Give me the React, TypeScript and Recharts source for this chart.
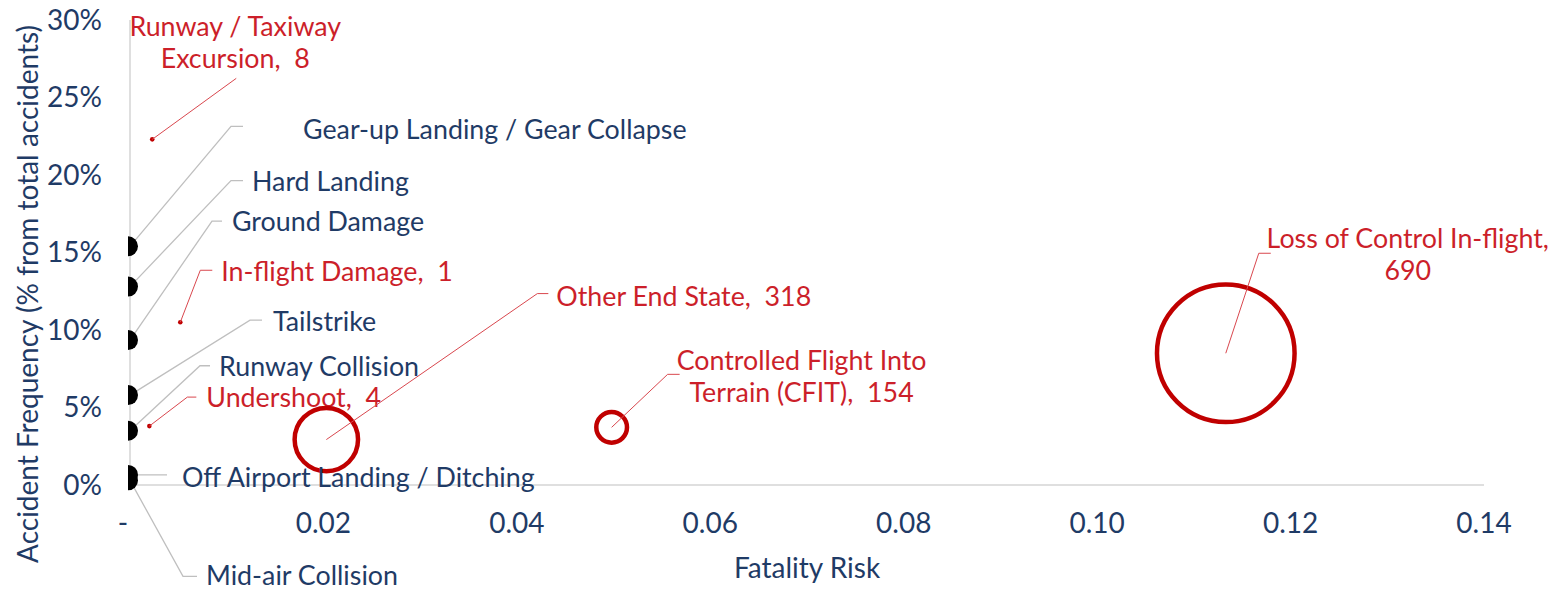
import React from 'react';
import { ScatterChart, Scatter, XAxis, YAxis, ZAxis, Label } from 'recharts';

// end states with no recorded fatality risk (drawn as black markers on the y axis)
const zeroRiskNames = [
  'Gear-up Landing / Gear Collapse',
  'Hard Landing',
  'Ground Damage',
  'Tailstrike',
  'Runway Collision',
  'Off Airport Landing / Ditching',
  'Mid-air Collision',
];
const zeroRiskFreq = [0.154, 0.128, 0.0935, 0.058, 0.035, 0.0065, 0.003];

// end states with fatalities (bubble width = number of fatalities)
const fatalNames = [
  'Runway / Taxiway Excursion',
  'In-flight Damage',
  'Undershoot',
  'Other End State',
  'Controlled Flight Into Terrain (CFIT)',
  'Loss of Control In-flight',
];
const fatalRisk = [0.0023, 0.0052, 0.002, 0.0203, 0.0498, 0.1133];
const fatalFreq = [0.223, 0.105, 0.038, 0.0293, 0.0372, 0.085];
const fatalities = [8, 1, 4, 318, 154, 690];

const xTicks = [0, 0.02, 0.04, 0.06, 0.08, 0.1, 0.12, 0.14];
const yTicks = [0, 0.05, 0.1, 0.15, 0.2, 0.25, 0.3];

const zeroRiskData = zeroRiskNames.map((name, i) => ({ name, risk: 0, freq: zeroRiskFreq[i] }));
const fatalData = fatalNames.map((name, i) => ({
  name,
  risk: fatalRisk[i],
  freq: fatalFreq[i],
  fatal: fatalities[i],
}));
const maxFatal = Math.max(...fatalities);

const NAVY = '#1F3B66';
const RED_TEXT = '#CC1F2A';
const RED = '#C00000';
const GREY = '#BFBFBF';
const FONT = "Lato, 'Noto Sans', sans-serif";
const FS = 26.8; // data labels
const FS_AXIS = 28; // ticks and axis titles

// leader line / label placement, pixel offsets from the point
// bend: end of slanted leader, tail: short horizontal piece, text: label anchor
const labelLayout: Record<string, any> = {
  'Gear-up Landing / Gear Collapse': { bend: [101, -120], tail: 12, text: [173, -117] },
  'Hard Landing': { bend: [101, -106], tail: 12, text: [122, -106] },
  'Ground Damage': { bend: [82, -119], tail: 10, text: [102, -119] },
  Tailstrike: { bend: [120, -75], tail: 12, text: [143, -74] },
  'Runway Collision': { bend: [70, -65], tail: 10, text: [89, -65] },
  'Off Airport Landing / Ditching': { bend: [5, 0], tail: 32, text: [52, 2] },
  'Mid-air Collision': { bend: [53, 96], tail: 14, text: [76, 95] },
  'Runway / Taxiway Excursion': { bend: [84, -61], tail: 0, text: [83, -113], wrap: 16, anchor: 'middle' },
  'In-flight Damage': { bend: [20, -52], tail: 12, text: [41, -51] },
  Undershoot: { bend: [38, -29], tail: 9, text: [57, -29] },
  'Other End State': { bend: [211, -146], tail: 11, text: [230, -144] },
  'Controlled Flight Into Terrain (CFIT)': { bend: [56, -53], tail: 12, text: [190, -67], wrap: 22, anchor: 'middle' },
  'Loss of Control In-flight': { bend: [33, -100], tail: 12, text: [182, -115], wrap: 26, anchor: 'middle' },
};

const wrapText = (s: string, max?: number) => {
  if (!max) return [s];
  const out: string[] = [];
  let line = '';
  s.split(' ').forEach((w) => {
    if (line === '') line = w;
    else if ((line + ' ' + w).length <= max) line = line + ' ' + w;
    else {
      out.push(line);
      line = w;
    }
  });
  if (line !== '') out.push(line);
  return out;
};

const LeaderLabel = ({ cx, cy, text, color, lineColor, lineWidth, lay }: any) => {
  const bx = cx + lay.bend[0];
  const by = cy + lay.bend[1];
  const lines = wrapText(text, lay.wrap);
  const tx = cx + lay.text[0];
  const ty = cy + lay.text[1];
  return (
    <g>
      <polyline
        points={`${cx},${cy} ${bx},${by} ${bx + lay.tail},${by}`}
        fill="none"
        stroke={lineColor}
        strokeWidth={lineWidth}
      />
      <text
        x={tx}
        y={ty}
        fill={color}
        fontSize={FS}
        fontFamily={FONT}
        textAnchor={lay.anchor || 'start'}
        dominantBaseline="central"
        style={{ whiteSpace: 'pre' }}
      >
        {lines.map((l, i) => (
          <tspan key={i} x={tx} y={ty + i * 32}>
            {l}
          </tspan>
        ))}
      </text>
    </g>
  );
};

const BlackMarker = (props: any) => {
  const { cx, cy, payload } = props;
  const r = 10;
  return (
    <g>
      <LeaderLabel cx={cx} cy={cy} text={payload.name} color={NAVY} lineColor={GREY} lineWidth={1.3} lay={labelLayout[payload.name]} />
      <path d={`M ${cx - 2} ${cy - r} A ${r} ${r} 0 0 1 ${cx - 2} ${cy + r} Z`} fill="#000" />
    </g>
  );
};

const RedBubble = (props: any) => {
  const { cx, cy, payload, width, size } = props;
  const r = width != null ? width / 2 : Math.sqrt(Math.max(size || 0, 0) / Math.PI);
  const small = r < 3;
  return (
    <g>
      <circle
        cx={cx}
        cy={cy}
        r={small ? 2.3 : r}
        fill={small ? RED : 'none'}
        stroke={RED}
        strokeWidth={small ? 0 : 4.5}
      />
      <LeaderLabel
        cx={cx}
        cy={cy}
        text={`${payload.name},  ${payload.fatal}`}
        color={RED_TEXT}
        lineColor="#D9474E"
        lineWidth={1}
        lay={labelLayout[payload.name]}
      />
    </g>
  );
};

const XTick = (props: any) => {
  const { x, y, payload } = props;
  const v = payload.value;
  return (
    <text x={v === 0 ? x - 7 : x} y={y} dy="0.71em" textAnchor="middle" fill={NAVY} fontSize={FS_AXIS} fontFamily={FONT}>
      {v === 0 ? '-' : v.toFixed(2)}
    </text>
  );
};

export default function App() {
  return (
    <div style={{ position: 'absolute', left: 0, top: 0, width: 1550, height: 592, background: '#fff' }}>
      <ScatterChart width={1550} height={592} margin={{ top: 20, right: 66, bottom: 0, left: 0 }} style={{ fontFamily: FONT }}>
        <XAxis
          type="number"
          dataKey="risk"
          domain={[0, 0.14]}
          ticks={xTicks}
          interval={0}
          height={107}
          axisLine={{ stroke: GREY }}
          tickLine={false}
          tickSize={0}
          tickMargin={28}
          tick={<XTick />}
        >
          <Label
            content={() => (
              <text x={807} y={567} textAnchor="middle" dominantBaseline="central" fill={NAVY} fontSize={FS_AXIS} fontFamily={FONT}>
                Fatality Risk
              </text>
            )}
          />
        </XAxis>
        <YAxis
          type="number"
          dataKey="freq"
          domain={[0, 0.3]}
          ticks={yTicks}
          interval={0}
          width={130}
          axisLine={{ stroke: GREY }}
          tickLine={false}
          tickSize={0}
          tickMargin={28}
          tick={{ fill: NAVY, fontSize: FS_AXIS, fontFamily: FONT }}
          tickFormatter={(v: number) => `${Math.round(v * 100)}%`}
        >
          <Label
            content={() => (
              <text
                x={27}
                y={294}
                transform="rotate(-90, 27, 294)"
                textAnchor="middle"
                dominantBaseline="central"
                fill={NAVY}
                fontSize={FS_AXIS}
                fontFamily={FONT}
              >
                Accident Frequency (% from total accidents)
              </text>
            )}
          />
        </YAxis>
        <ZAxis
          zAxisId="fat"
          type="number"
          dataKey={(d: any) => d.fatal * d.fatal}
          domain={[0, maxFatal * maxFatal]}
          range={[0, Math.PI * 68.8 * 68.8]}
        />
        <ZAxis zAxisId="mark" type="number" range={[314, 314]} />
        <Scatter data={fatalData} zAxisId="fat" shape={<RedBubble />} isAnimationActive={false} />
        <Scatter data={zeroRiskData} zAxisId="mark" shape={<BlackMarker />} isAnimationActive={false} />
      </ScatterChart>
    </div>
  );
}
